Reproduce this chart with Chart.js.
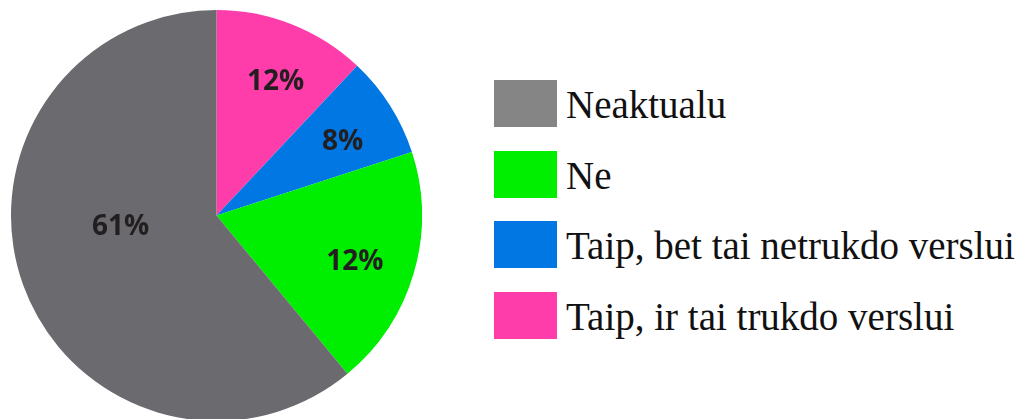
<!DOCTYPE html>
<html>
<head>
<meta charset="utf-8">
<script src="https://cdn.jsdelivr.net/npm/chart.js@4/dist/chart.umd.min.js"></script>
<style>
  html, body { margin: 0; padding: 0; background: #fff; }
  body { width: 1018px; height: 419px; position: relative; overflow: hidden; }
  #pie-wrap { position: absolute; left: 11px; top: 10px; width: 411px; height: 411px; }
  #legend { position: absolute; left: 494px; top: 80px; margin: 0; padding: 0; list-style: none; }
  #legend li { display: flex; align-items: center; height: 47px; margin-bottom: 23.5px; }
  #legend .swatch { width: 63px; height: 47px; flex: none; }
  #legend .text {
    margin-left: 9px; font-family: "Liberation Serif", "Times New Roman", serif;
    font-size: 39px; color: #111; white-space: nowrap; position: relative; top: 1px;
  }
</style>
</head>
<body>
<div id="pie-wrap"><canvas id="chart-pie"></canvas></div>
<ul id="legend"></ul>
<script>
/* global Chart */

// ─── Data ────────────────────────────────────────────────────────────────────

const categories = [
  "Neaktualu",
  "Ne",
  "Taip, bet tai netrukdo verslui",
  "Taip, ir tai trukdo verslui",
];
const shares = [61, 19, 8, 12];              // slice sizes as drawn
const shareLabels = ["61%", "12%", "8%", "12%"]; // percentages printed on slices

const sliceColors = ["#6b6b6f", "#00ee00", "#0077e3", "#ff3daa"];
const legendColors = ["#858585", "#00ee00", "#0077e3", "#ff3daa"];

// ─── Legend ──────────────────────────────────────────────────────────────────

document.getElementById("legend").innerHTML = categories.map((c, i) => `
  <li><span class="swatch" style="background:${legendColors[i]}"></span><span class="text">${c}</span></li>
`).join("");

// ─── Slice labels ────────────────────────────────────────────────────────────

// Slices run counter-clockwise from the top, so feed them to Chart.js reversed
const order = categories.map((_, i) => i).reverse();

const sliceLabels = {
  id: "sliceLabels",
  afterDatasetsDraw(chart) {
    const { ctx } = chart;
    const meta = chart.getDatasetMeta(0);
    ctx.save();
    ctx.font = "bold 28px 'Open Sans', sans-serif";
    ctx.fillStyle = "#231f20";
    ctx.textAlign = "center";
    ctx.textBaseline = "middle";
    meta.data.forEach((arc, j) => {
      const { x, y, startAngle, endAngle, outerRadius } = arc.getProps(
        ["x", "y", "startAngle", "endAngle", "outerRadius"], true);
      const mid = (startAngle + endAngle) / 2;
      const big = endAngle - startAngle > Math.PI;
      const r = outerRadius * (big ? 0.47 : 0.71);
      const a = big ? mid + 0.23 : mid + 0.04;
      ctx.fillText(shareLabels[order[j]], x + Math.cos(a) * r, y + Math.sin(a) * r);
    });
    ctx.restore();
  },
};

new Chart(document.getElementById("chart-pie"), {
  type: "pie",
  data: {
    labels: order.map((i) => categories[i]),
    datasets: [{
      data: order.map((i) => shares[i]),
      backgroundColor: order.map((i) => sliceColors[i]),
      borderWidth: 0,
    }],
  },
  options: {
    responsive: true,
    maintainAspectRatio: false,
    animation: false,
    layout: { padding: 0 },
    plugins: { legend: { display: false }, tooltip: { enabled: false } },
  },
  plugins: [sliceLabels],
});
</script>
</body>
</html>
